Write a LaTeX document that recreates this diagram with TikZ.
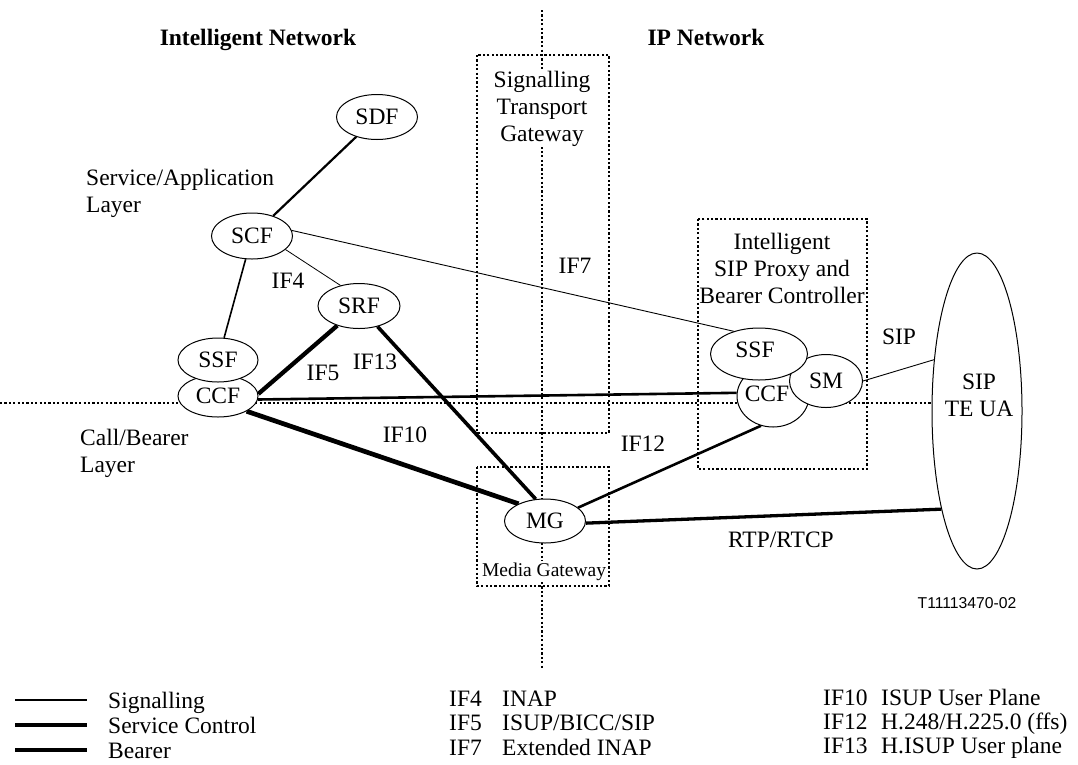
\documentclass[tikz,border=0pt]{standalone}
\usepackage{fontspec}
\setmainfont{Liberation Serif}
\setsansfont{Liberation Sans}
\usetikzlibrary{shapes.geometric}
\pgfdeclarelayer{bg}
\pgfsetlayers{bg,main}
\newcommand\mainsz{\fontsize{23.5}{27}\selectfont}
\newcommand\smallsz{\fontsize{19.5}{23}\selectfont}
\begin{document}
\begin{tikzpicture}[x=1pt,y=-1pt,
  ell/.style={ellipse,draw,fill=white,line width=1pt,inner sep=0pt,font=\mainsz},
  lbl/.style={font=\mainsz,inner sep=0pt,anchor=base},
  leg/.style={font=\mainsz,inner sep=0pt,anchor=base west},
  multi/.style={font=\mainsz,inner sep=0pt},
  guide/.style={line width=1.7pt,dash pattern=on 2.2pt off 2.2pt},
  thinline/.style={line width=0.9pt},
  ctlline/.style={line width=2.6pt}
]
\useasboundingbox (0,0) rectangle (1078,764);

% ---------- nodes ----------
\node[ell,minimum width=81pt,minimum height=45pt] (sdf) at (377,117) {SDF};
\node[ell,minimum width=81pt,minimum height=46pt] (scf) at (252,236) {SCF};
\node[ell,minimum width=82pt,minimum height=45pt] (srf) at (359,306) {SRF};
\node[ell,minimum width=80pt,minimum height=42pt] (lccf) at (218,396) {CCF};
\node[ell,minimum width=80pt,minimum height=44pt] (lssf) at (218,360) {SSF};
\node[ell,minimum width=81pt,minimum height=44pt] (mg) at (545,521) {MG};
\node[ell,minimum width=72pt,minimum height=62pt] (rccf) at (773,396) {};
\node[ell,minimum width=73pt,minimum height=53pt] (sm) at (826,381) {SM};
\node[ell,minimum width=97pt,minimum height=52pt] (rssf) at (759,354) {};
\node[ell,minimum width=90pt,minimum height=316pt] (sipua) at (977,411) {};
\node[lbl] (rccft) at (767,401) {CCF};
\node[lbl] (rssft) at (755,357) {SSF};

% ---------- texts ----------
\node[lbl,font=\mainsz\bfseries] (intn) at (258,45) {Intelligent Network};
\node[lbl,font=\mainsz\bfseries] (ipn) at (706,45) {IP Network};
\node[multi,align=left,anchor=west] (sal) at (86,193.5) {Service/Application\\Layer};
\node[multi,align=left,anchor=west] (cbl) at (80,453) {Call/Bearer\\Layer};
\node[multi,align=center,fill=white,inner sep=1pt] (stg) at (542,108.5) {Signalling\\Transport\\Gateway};
\node[multi,align=center] (isp) at (782,268.5) {Intelligent\\SIP Proxy and\\Bearer Controller};
\node[multi,align=center] (sipt) at (979,395.5) {SIP\\TE UA};
\node[lbl,font=\smallsz,fill=white,inner sep=1pt] (mgw) at (544,576) {Media Gateway};

\node[lbl] (if4) at (288,288) {IF4};
\node[lbl] (if5) at (323,380) {IF5};
\node[lbl] (if13) at (375,369) {IF13};
\node[lbl] (if10) at (405,442) {IF10};
\node[lbl] (if7) at (575,273) {IF7};
\node[lbl] (if12) at (643,451) {IF12};
\node[lbl] (rtp) at (781,547) {RTP/RTCP};
\node[lbl] (sip) at (899,344) {SIP};
\node[lbl,font=\sffamily\fontsize{15.7}{18}\selectfont] (tnum) at (967,608) {T11113470-02};

% legend
\node[leg] (lg1) at (108,708) {Signalling};
\node[leg] (lg2) at (108,733) {Service Control};
\node[leg] (lg3) at (108,758) {Bearer};
\node[leg] (k4) at (449,706) {IF4};
\node[leg] (d4) at (502,706) {INAP};
\node[leg] (k5) at (449,730) {IF5};
\node[leg] (d5) at (502,730) {ISUP/BICC/SIP};
\node[leg] (k7) at (449,755) {IF7};
\node[leg] (d7) at (502,755) {Extended INAP};
\node[leg] (k10) at (823,705) {IF10};
\node[leg] (d10) at (881,705) {ISUP User Plane};
\node[leg] (k12) at (823,729) {IF12};
\node[leg] (d12) at (881,729) {H.248/H.225.0 (ffs)};
\node[leg] (k13) at (823,753) {IF13};
\node[leg] (d13) at (881,753) {H.ISUP User plane};

% ---------- background: guides, boxes, connectors ----------
\begin{pgfonlayer}{bg}
  \draw[guide] (542,10) -- (542,668);
  \draw[guide] (0,403) -- (sipua.west |- 0,403);
  \draw[guide] (477,55) rectangle (609,433);
  \draw[guide] (477,467) rectangle (609,586);
  \draw[guide] (698,219) rectangle (867,469);

  \draw[line width=2.2pt] (sdf) -- (scf);
  \draw[line width=1.6pt] (scf) -- (lssf);
  \draw[line width=0.8pt] (scf.-22) -- (srf.132);
  \draw[thinline] (scf.8) -- (rssf.138);
  \draw[line width=4.3pt] (lccf.3) -- (srf.222);
  \draw[line width=3.6pt] (srf.-48) -- (mg.113);
  \draw[line width=4.7pt] (lccf.-28) -- (mg.147);
  \draw[ctlline] (lccf.-5) -- (rccf.175);
  \draw[line width=2.6pt] (mg.22) -- (rccf.248);
  \draw[line width=3.3pt] (mg.-3) -- (sipua.250);
  \draw[thinline] (sm.0) -- (sipua.130);

  \draw[line width=2.6pt] (15,700) -- (87,700);
  \draw[line width=3.2pt] (15,725) -- (87,725);
  \draw[line width=4pt] (15,750) -- (87,750);
\end{pgfonlayer}
\end{tikzpicture}
\end{document}
